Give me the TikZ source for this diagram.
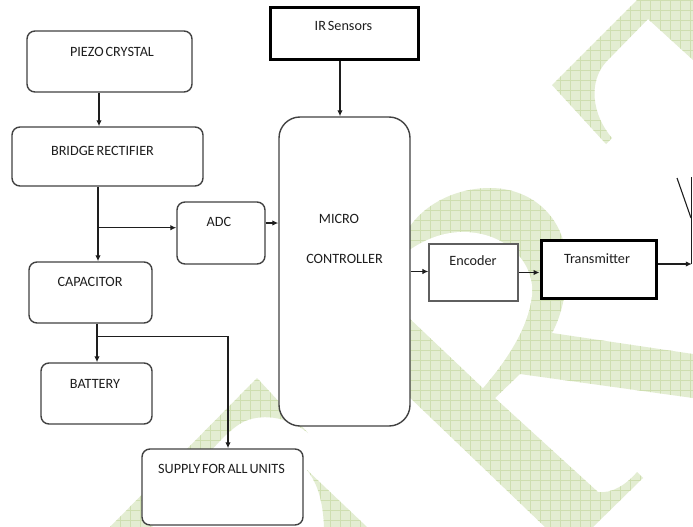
\documentclass[tikz,border=0pt]{standalone}
\usepackage{fontspec}
\setmainfont{Carlito}[WordSpace=0.6]
\usetikzlibrary{arrows.meta,calc}
\definecolor{wmfill}{RGB}{227,237,210}
\definecolor{wmline}{RGB}{206,222,176}
\definecolor{edge}{RGB}{66,66,66}
\definecolor{ink}{RGB}{30,30,30}
\definecolor{encedge}{RGB}{95,95,95}
\begin{document}
\begin{tikzpicture}[x=1pt,y=-1pt,
  rbox/.style={draw=edge, line width=1.4pt, rounded corners=8pt, fill=white, inner sep=0pt},
  mcbox/.style={draw=edge, line width=1.4pt, rounded corners=21pt, fill=white, inner sep=0pt},
  heavybox/.style={draw=black, line width=3pt, fill=white, inner sep=0pt},
  encbox/.style={draw=encedge, line width=1.3pt, fill=white, inner sep=0pt},
  lbl/.style={font=\fontsize{14.2}{16}\selectfont, text=ink, inner sep=0pt, anchor=base},
  conn/.style={draw=ink, line width=1.4pt},
  arr/.style={conn, -{Latex[length=6pt,width=5.5pt]}},
]
\useasboundingbox (0,0) rectangle (693,527);
\fill[white] (0,0) rectangle (693,527);

% watermark
\begin{scope}
\clip (552,85) -- (637,0) -- (693,0) -- (693,60) -- (648,19) -- (606,62) .. controls (588,82) and (592,115) .. (612,138) -- (606,144) -- cycle
      (404,236) .. controls (420,205) and (455,188) .. (490,188) .. controls (530,188) and (562,215) .. (566,255) .. controls (569,285) and (562,315) .. (552,333) -- (693,354) -- (693,398) -- (520,374) -- (495,398) -- (598,492) .. controls (612,494) and (627,484) .. (637,472) -- (643,478) -- (593,527) -- (545,527) -- (404,392) -- cycle
      (110,527) -- (257,378) -- (308,433) .. controls (290,418) and (265,413) .. (245,421) .. controls (222,432) and (195,470) .. (152,527) -- cycle
      (307,470) -- (367,527) -- (324,527) .. controls (323,502) and (318,484) .. (307,470) -- cycle;
\fill[wmfill] (0,0) rectangle (693,527);
\foreach \i in {0,10,...,690} \draw[wmline, line width=0.6pt] (\i,0) -- (\i,527);
\foreach \j in {0,10,...,520} \draw[wmline, line width=0.6pt] (0,\j) -- (693,\j);
\end{scope}
\fill[white] (404,254) .. controls (425,238) and (445,232) .. (463,232) .. controls (505,232) and (535,262) .. (532,295) .. controls (528,330) and (505,362) .. (483,388) -- (404,313) -- cycle;

% boxes
\node[rbox, minimum width=165pt, minimum height=61pt] (piezo) at (109.5,61.5) {};
\node[rbox, minimum width=191pt, minimum height=59pt] (bridge) at (107.5,156.5) {};
\node[rbox, minimum width=88pt, minimum height=62pt] (adc) at (221,233) {};
\node[rbox, minimum width=123pt, minimum height=61pt] (cap) at (90.5,292.5) {};
\node[rbox, minimum width=111pt, minimum height=61pt] (batt) at (96.5,393.5) {};
\node[rbox, minimum width=161pt, minimum height=76pt] (supply) at (222.5,487) {};
\node[mcbox, minimum width=131pt, minimum height=309pt] (mc) at (344.5,271.5) {};
\node[heavybox, minimum width=148pt, minimum height=52pt] (ir) at (344,34) {};
\node[encbox, minimum width=89pt, minimum height=57pt] (enc) at (473.5,272.5) {};
\node[heavybox, minimum width=115pt, minimum height=58pt] (tx) at (598.5,269) {};

% labels
\node[lbl] (piezo-t) at (112,56.5) {PIEZO CRYSTAL};
\node[lbl] (bridge-t) at (102.5,155) {BRIDGE RECTIFIER};
\node[lbl] (adc-t) at (219,226.5) {ADC};
\node[lbl] (cap-t) at (90,286.5) {CAPACITOR};
\node[lbl] (batt-t) at (95,388) {BATTERY};
\node[lbl] (supply-t) at (221.5,473) {SUPPLY FOR ALL UNITS};
\node[lbl] (mc-t1) at (339,223) {MICRO};
\node[lbl] (mc-t2) at (344.5,263) {CONTROLLER};
\node[lbl] (ir-t) at (343.5,30.5) {IR Sensors};
\node[lbl] (enc-t) at (473,265.5) {Encoder};
\node[lbl] (tx-t) at (597,263) {Transmitter};

% connectors
\coordinate (p1) at ([xshift=-10.5pt]piezo.south);
\draw[arr] (p1) -- (p1 |- bridge.north);
\coordinate (b1) at ([xshift=-9.5pt]bridge.south);
\draw[arr] (b1) -- (b1 |- cap.north);
\coordinate (j1) at ($(b1)+(0,41)$);
\draw[arr] (j1) -- (j1 -| adc.west);
\coordinate (a1) at ([yshift=10pt]adc.east);
\draw[arr] (a1) -- (a1 -| mc.west);
\coordinate (i1) at ([xshift=-4pt]ir.south);
\draw[arr] (i1) -- (i1 |- mc.north);
\coordinate (c1) at ([xshift=6.5pt]cap.south);
\draw[arr] (c1) -- (c1 |- batt.north);
\coordinate (j2) at ($(c1)+(0,13)$);
\coordinate (s1) at ([xshift=5.5pt]supply.north);
\draw[arr] (j2) -- (j2 -| s1) -- (s1);
\draw[arr, line width=1pt] (mc.east) -- (mc.east -| enc.west);
\draw[arr] (enc.east) -- (enc.east -| tx.west);
\coordinate (antbase) at (691.8,264);
\coordinate (anttop) at (691.8,177);
\coordinate (antL) at (677,178);
\coordinate (antM) at (691,218);
\coordinate (t1) at ([yshift=5pt]tx.east);
\draw[arr] (t1) -- (t1 -| antbase);
\draw[conn, line width=1.1pt] (antbase) -- (anttop);
\draw[conn, line width=1.1pt] (antL) -- (antM);
\end{tikzpicture}
\end{document}
